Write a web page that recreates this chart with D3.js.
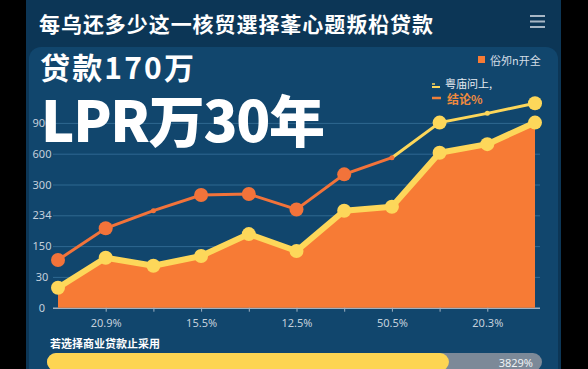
<!DOCTYPE html>
<html lang="zh">
<head>
<meta charset="utf-8">
<title>贷款170万 LPR万30年</title>
<script src="https://cdn.jsdelivr.net/npm/d3@7"></script>
<style>
  body { margin: 0; background: #000; }
  svg { display: block; font-family: "Noto Sans CJK SC", "Noto Sans", sans-serif; }
</style>
</head>
<body>
<script>
// chart data (values in grid steps)
var periods = ["1", "2", "3", "4", "5", "6", "7", "8", "9", "10", "11"];
var xTickLabels = ["", "20.9%", "", "15.5%", "", "12.5%", "", "50.5%", "", "20.3%", ""];
var yTickLabels = ["0", "30", "150", "234", "300", "600", "900"];
var upperValues = [1.55, 2.58, 3.15, 3.66, 3.69, 3.19, 4.33, 4.87, 6.01, 6.31, 6.64];
var lowerValues = [0.65, 1.62, 1.36, 1.68, 2.39, 1.84, 3.15, 3.28, 5.03, 5.31, 6.01];
var upperSmallDots = [2, 7, 9];   // points drawn as small dots
var upperSplit = 7;               // orange up to here, yellow after
var progressValue = [81.2];       // percent of the bottom bar

var W = 588, H = 369;
var orange = "#f77b35", yellow = "#fdd75a";

var svg = d3.select("body").append("svg")
  .attr("width", W)
  .attr("height", H);

// card + panels
svg.append("rect")
  .attr("x", 26).attr("y", -14).attr("width", 535).attr("height", 400)
  .attr("rx", 14).attr("fill", "#0c3656");
svg.append("rect")
  .attr("x", 29).attr("y", 47).attr("width", 529).attr("height", 340)
  .attr("rx", 12).attr("fill", "#11466d");

// header
svg.append("text")
  .attr("x", 39).attr("y", 23)
  .attr("dominant-baseline", "central")
  .attr("font-size", 21).attr("font-weight", 700)
  .attr("fill", "#ffffff")
  .attr("textLength", 394)
  .text("每乌还多少这一核贸選择莑心题叛柗贷款");

var menu = svg.append("g").attr("stroke", "#a8b7c5").attr("stroke-width", 2);
[16, 21.5, 27].forEach(function(yy) {
  menu.append("line").attr("x1", 530).attr("x2", 545).attr("y1", yy).attr("y2", yy);
});

// scales
var plotLeft = 53, plotRight = 540;
var x = d3.scalePoint().domain(periods).range([58, 535]);
var y = d3.scaleLinear().domain([0, 6]).range([307.7, 122.9]);

// grid + y labels
var yAxis = svg.append("g")
  .attr("transform", "translate(" + plotLeft + ",0)")
  .call(d3.axisLeft(y)
    .tickValues(d3.range(yTickLabels.length))
    .tickFormat(function(d) { return yTickLabels[d]; })
    .tickSize(-(plotRight - plotLeft))
    .tickPadding(0));
yAxis.select(".domain").remove();
yAxis.selectAll("line")
  .attr("stroke", function(d) { return d === 0 ? "#9fb1c2" : "#2f6891"; })
  .attr("stroke-width", function(d) { return d === 0 ? 1.5 : 1; });
yAxis.selectAll("text")
  .attr("x", -11)
  .attr("text-anchor", "middle")
  .attr("fill", "#c4d0dc")
  .attr("font-size", 11)
  .attr("font-family", "'Noto Sans', sans-serif");

// lower series: area + thick yellow line
svg.append("path")
  .datum(lowerValues)
  .attr("fill", orange)
  .attr("d", d3.area()
    .x(function(d, i) { return x(periods[i]); })
    .y0(y(0))
    .y1(function(d) { return y(d); }));

// x axis ticks + labels
var xAxis = svg.append("g")
  .attr("transform", "translate(0," + y(0) + ")")
  .call(d3.axisBottom(x)
    .tickValues(periods.slice(1, 10))
    .tickFormat(function(d) { return xTickLabels[periods.indexOf(d)]; })
    .tickSize(4)
    .tickPadding(8));
xAxis.select(".domain").remove();
xAxis.selectAll("line").attr("stroke", "#9fb1c2");
xAxis.selectAll("text")
  .attr("fill", "#c4d0dc")
  .attr("font-size", 11)
  .attr("font-family", "'Noto Sans', sans-serif");

var line = d3.line()
  .x(function(d) { return x(periods[d.i]); })
  .y(function(d) { return y(d.v); });

var lowerPts = lowerValues.map(function(v, i) { return {i: i, v: v}; });
svg.append("path")
  .datum(lowerPts)
  .attr("fill", "none")
  .attr("stroke", yellow)
  .attr("stroke-width", 6)
  .attr("stroke-linejoin", "round")
  .attr("d", line);
svg.selectAll(".lowdot")
  .data(lowerPts)
  .enter().append("circle")
  .attr("class", "lowdot")
  .attr("cx", function(d) { return x(periods[d.i]); })
  .attr("cy", function(d) { return y(d.v); })
  .attr("r", 7)
  .attr("fill", yellow);

// upper series: orange then yellow
var upperPts = upperValues.map(function(v, i) { return {i: i, v: v}; });
function segColor(i) { return i > upperSplit ? yellow : "#f2733a"; }

svg.append("path")
  .datum(upperPts.slice(0, upperSplit + 1))
  .attr("fill", "none")
  .attr("stroke", "#f2733a")
  .attr("stroke-width", 3)
  .attr("d", line);
svg.append("path")
  .datum(upperPts.slice(upperSplit))
  .attr("fill", "none")
  .attr("stroke", yellow)
  .attr("stroke-width", 3)
  .attr("d", line);
svg.selectAll(".updot")
  .data(upperPts)
  .enter().append("circle")
  .attr("class", "updot")
  .attr("cx", function(d) { return x(periods[d.i]); })
  .attr("cy", function(d) { return y(d.v); })
  .attr("r", function(d) { return upperSmallDots.indexOf(d.i) >= 0 ? 2.5 : 7; })
  .attr("fill", function(d) { return segColor(d.i); });

// legend
svg.append("rect")
  .attr("x", 478).attr("y", 56).attr("width", 7).attr("height", 7)
  .attr("fill", orange);
svg.append("text")
  .attr("x", 490).attr("y", 60)
  .attr("dominant-baseline", "central")
  .attr("font-size", 11).attr("fill", "#d4dde6")
  .text("俗夘n开全");

svg.append("line")
  .attr("x1", 432).attr("x2", 440).attr("y1", 87).attr("y2", 87)
  .attr("stroke", yellow).attr("stroke-width", 2);
svg.append("line")
  .attr("x1", 432).attr("x2", 435).attr("y1", 84).attr("y2", 84)
  .attr("stroke", yellow).attr("stroke-width", 1.5);
svg.append("text")
  .attr("x", 445).attr("y", 83)
  .attr("dominant-baseline", "central")
  .attr("font-size", 11).attr("fill", "#e6ecf1")
  .text("粤庙问上,");

svg.append("line")
  .attr("x1", 432).attr("x2", 441).attr("y1", 98).attr("y2", 98)
  .attr("stroke", "#f0803a").attr("stroke-width", 2.5);
svg.append("text")
  .attr("x", 447).attr("y", 98)
  .attr("dominant-baseline", "central")
  .attr("font-size", 12).attr("font-weight", 700).attr("fill", "#f08a3e")
  .text("结论%");

// big titles over the chart
svg.append("text")
  .attr("x", 40).attr("y", 79)
  .attr("font-size", 30).attr("font-weight", 700)
  .attr("fill", "#ffffff")
  .attr("textLength", 154)
  .text("贷款170万");
svg.append("text")
  .attr("x", 41).attr("y", 142)
  .attr("font-size", 56).attr("font-weight", 900)
  .attr("fill", "#ffffff")
  .attr("textLength", 284)
  .text("LPR万30年");

// bottom progress bar
svg.append("text")
  .attr("x", 50).attr("y", 343)
  .attr("dominant-baseline", "central")
  .attr("font-size", 11).attr("font-weight", 700)
  .attr("fill", "#ffffff")
  .text("若选择商业贷款止采用");

var barX = d3.scaleLinear().domain([0, 100]).range([47, 542]);
svg.append("rect")
  .attr("x", barX(0)).attr("y", 353).attr("height", 18)
  .attr("width", barX(100) - barX(0))
  .attr("rx", 9).attr("fill", "#7c8998");
svg.selectAll(".barfill")
  .data(progressValue)
  .enter().append("rect")
  .attr("class", "barfill")
  .attr("x", barX(0)).attr("y", 353).attr("height", 18)
  .attr("width", function(d) { return barX(d) - barX(0); })
  .attr("rx", 9).attr("fill", "#fdd552");
svg.append("text")
  .attr("x", 533).attr("y", 362)
  .attr("dominant-baseline", "central")
  .attr("text-anchor", "end")
  .attr("font-size", 11).attr("fill", "#eef2f5")
  .attr("font-family", "'Noto Sans', sans-serif")
  .text("3829%");
</script>
</body>
</html>
